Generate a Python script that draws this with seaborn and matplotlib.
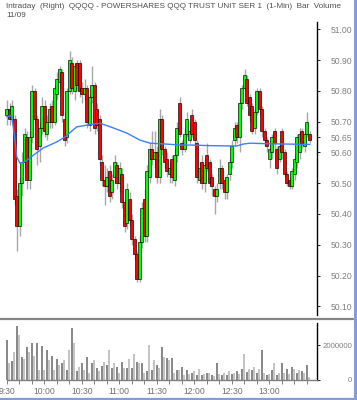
import matplotlib
matplotlib.use('Agg')
import matplotlib.pyplot as plt
from matplotlib.lines import Line2D
import seaborn as sns
import numpy as np
import pandas as pd

# ---------------- data ----------------
title_text = "Intraday  (Right)  QQQQ - POWERSHARES QQQ TRUST UNIT SER 1  (1-Min)  Bar  Volume"
date_text = "11/09"

# bar start times, minutes after 9:30 (2-minute bars)
bar_minutes = list(range(0, 244, 2))

opens = [50.72, 50.74, 50.71, 50.71, 50.46, 50.36, 50.50, 50.57, 50.65, 50.51,
         50.65, 50.80, 50.71, 50.62, 50.68, 50.75, 50.66, 50.70, 50.75, 50.70,
         50.79, 50.83, 50.86, 50.71, 50.65, 50.80, 50.89, 50.80, 50.89,
         50.89, 50.81, 50.79, 50.81, 50.69, 50.78, 50.82, 50.74, 50.71, 50.57,
         50.51, 50.49, 50.54, 50.47, 50.52, 50.56, 50.50, 50.53, 50.44, 50.37,
         50.45, 50.38, 50.32, 50.27, 50.19, 50.31, 50.45, 50.33, 50.52, 50.61,
         50.58, 50.60,
         50.52, 50.71, 50.61, 50.58, 50.53, 50.58, 50.51, 50.59, 50.76, 50.63,
         50.61, 50.66, 50.64, 50.72, 50.70, 50.63, 50.51, 50.57, 50.50, 50.59,
         50.57, 50.52, 50.48, 50.46, 50.50, 50.55, 50.51, 50.47, 50.53, 50.57,
         50.64, 50.69,
         50.65, 50.76, 50.81, 50.84, 50.78, 50.75, 50.68, 50.73, 50.80, 50.74,
         50.67, 50.64, 50.58, 50.60, 50.67, 50.61, 50.58, 50.67, 50.60, 50.53,
         50.51, 50.49, 50.53, 50.57, 50.60, 50.67, 50.62, 50.66, 50.66]
closes = [50.74, 50.71, 50.75, 50.45, 50.36, 50.50, 50.57, 50.66, 50.51, 50.65,
          50.80, 50.71, 50.61, 50.68, 50.75, 50.67, 50.70, 50.74, 50.70, 50.81,
          50.84, 50.87, 50.72, 50.64, 50.80, 50.90, 50.81, 50.88, 50.82,
          50.80, 50.79, 50.81, 50.70, 50.78, 50.82, 50.68, 50.69, 50.58, 50.51,
          50.49, 50.52, 50.46, 50.51, 50.57, 50.50, 50.55, 50.44, 50.36, 50.48,
          50.38, 50.32, 50.27, 50.19, 50.31, 50.42, 50.33, 50.54, 50.61, 50.58,
          50.60, 50.52,
          50.71, 50.61, 50.57, 50.54, 50.55, 50.52, 50.59, 50.68, 50.66, 50.61,
          50.66, 50.71, 50.67, 50.66, 50.64, 50.52, 50.55, 50.50, 50.56, 50.55,
          50.50, 50.49, 50.46, 50.48, 50.55, 50.50, 50.47, 50.52, 50.57, 50.62,
          50.68, 50.65,
          50.76, 50.81, 50.85, 50.76, 50.72, 50.67, 50.73, 50.80, 50.74, 50.67,
          50.64, 50.62, 50.61, 50.65, 50.63, 50.55, 50.62, 50.60, 50.53, 50.50,
          50.49, 50.54, 50.58, 50.65, 50.66, 50.63, 50.66, 50.70, 50.64]
highs = [50.77, 50.76, 50.77, 50.72, 50.48, 50.52, 50.60, 50.68, 50.67, 50.67,
         50.82, 50.81, 50.72, 50.70, 50.78, 50.77, 50.72, 50.76, 50.77, 50.82,
         50.86, 50.88, 50.87, 50.73, 50.81, 50.93, 50.91, 50.89, 50.90,
         50.90, 50.83, 50.84, 50.82, 50.79, 50.88, 50.83, 50.76, 50.72, 50.59,
         50.56, 50.55, 50.56, 50.53, 50.59, 50.57, 50.57, 50.55, 50.45, 50.50,
         50.47, 50.40, 50.33, 50.28, 50.33, 50.44, 50.48, 50.56, 50.63, 50.67,
         50.67, 50.62,
         50.74, 50.72, 50.62, 50.60, 50.57, 50.59, 50.61, 50.70, 50.78, 50.64,
         50.68, 50.73, 50.70, 50.74, 50.71, 50.64, 50.57, 50.59, 50.58, 50.63,
         50.58, 50.53, 50.49, 50.50, 50.58, 50.56, 50.52, 50.53, 50.58, 50.64,
         50.70, 50.70,
         50.77, 50.82, 50.87, 50.85, 50.79, 50.76, 50.74, 50.81, 50.81, 50.75,
         50.68, 50.65, 50.63, 50.66, 50.68, 50.62, 50.63, 50.68, 50.61, 50.54,
         50.52, 50.55, 50.59, 50.66, 50.68, 50.68, 50.67, 50.73, 50.67]
lows = [50.69, 50.69, 50.70, 50.43, 50.28, 50.33, 50.46, 50.55, 50.48, 50.48,
        50.63, 50.69, 50.56, 50.57, 50.66, 50.65, 50.64, 50.68, 50.68, 50.69,
        50.77, 50.81, 50.70, 50.62, 50.63, 50.79, 50.79, 50.77, 50.80,
        50.78, 50.76, 50.77, 50.68, 50.67, 50.76, 50.66, 50.67, 50.56, 50.49,
        50.43, 50.47, 50.44, 50.45, 50.50, 50.48, 50.47, 50.42, 50.34, 50.35,
        50.36, 50.30, 50.25, 50.18, 50.18, 50.29, 50.31, 50.31, 50.50, 50.56,
        50.55, 50.50,
        50.50, 50.59, 50.55, 50.52, 50.50, 50.50, 50.49, 50.57, 50.65, 50.59,
        50.60, 50.65, 50.63, 50.65, 50.62, 50.50, 50.50, 50.48, 50.47, 50.54,
        50.49, 50.46, 50.40, 50.44, 50.48, 50.48, 50.45, 50.45, 50.51, 50.55,
        50.62, 50.63,
        50.60, 50.74, 50.80, 50.75, 50.70, 50.66, 50.66, 50.72, 50.72, 50.65,
        50.62, 50.60, 50.55, 50.58, 50.61, 50.53, 50.57, 50.58, 50.52, 50.49,
        50.48, 50.48, 50.51, 50.55, 50.58, 50.61, 50.60, 50.65, 50.63]

# volume per bar, millions of shares
volume_m = [2.3, 1.0, 1.1, 1.6, 3.1, 2.6, 1.3, 1.2, 1.9, 1.6,
            2.1, 1.4, 2.1, 0.6, 1.95, 0.6, 1.7, 1.15, 1.4, 0.6,
            1.2, 0.85, 0.95, 1.15, 0.6, 1.7, 2.95, 2.1, 0.5, 0.75,
            0.95, 0.6, 1.3, 0.4, 0.95, 1.15, 0.7, 0.5, 0.8, 1.05,
            0.85, 1.7, 0.7, 0.95, 0.75, 0.4, 1.05, 0.7, 0.7, 1.2,
            0.7, 1.5, 1.05, 0.95, 0.95, 0.4, 0.5, 2.0, 0.6, 1.15,
            0.85, 0.7, 1.9, 1.3, 1.25, 1.15, 1.25, 0.4, 0.55, 0.55,
            0.75, 0.3, 0.55, 0.35, 0.4, 0.5, 0.3, 0.65, 0.3, 0.35,
            0.4, 0.4, 0.3, 0.25, 1.0, 0.35, 0.3, 0.4, 0.3, 0.5,
            0.35, 0.4, 0.5, 0.35, 0.65, 1.5, 0.45, 0.65, 0.55, 0.75,
            0.4, 0.65, 1.7, 0.4, 0.3, 0.35, 0.55, 1.0, 0.3, 0.4,
            0.95, 0.4, 0.65, 0.35, 0.75, 0.65, 0.4, 0.55, 0.5, 0.4,
            0.85, 0.2]

# moving-average line (blue)
ma_minutes = [0, 4, 6.6, 8, 10.6, 14.6, 21, 29, 40, 46.6, 56, 66.6, 74.6, 85,
              96, 106.6, 114.6, 128, 138.6, 146.6, 162.6, 178.6, 184, 189,
              194.6, 210.6, 226.6, 242.6]
ma_values = [50.716, 50.72, 50.64, 50.586, 50.565, 50.57, 50.59, 50.614, 50.634,
             50.65, 50.683, 50.69, 50.695, 50.68, 50.663, 50.64, 50.63, 50.627,
             50.624, 50.624, 50.622, 50.621, 50.621, 50.627, 50.63, 50.628,
             50.627, 50.626]

price_ticks = [50.10, 50.20, 50.30, 50.40, 50.50, 50.60, 50.65, 50.70, 50.80, 50.90, 51.00]
vol_ticks = [0, 2000000]
vol_tick_labels = ['0', '2000000']
time_tick_minutes = [0, 30, 60, 90, 120, 150, 180, 210]
time_tick_labels = ['9:30', '10:00', '10:30', '11:00', '11:30', '12:00', '12:30', '13:00']

assert len(opens) == len(closes) == len(highs) == len(lows) == len(volume_m) == len(bar_minutes)

# ---------------- figure ----------------
sns.set_theme(style='white')
FONT = ['Liberation Sans Narrow', 'Liberation Sans', 'DejaVu Sans']
plt.rcParams['font.family'] = FONT

W, H = 357, 400
fig = plt.figure(figsize=(W / 100, H / 100), dpi=100)
fig.patch.set_facecolor('white')


def axrect(x0, y0, x1, y1):
    return [x0 / W, 1 - y1 / H, (x1 - x0) / W, (y1 - y0) / H]


XMIN, XMAX = -5.36, 248.2
axp = fig.add_axes(axrect(0, 22, 317, 315))
axv = fig.add_axes(axrect(0, 323, 317, 380))

df = pd.DataFrame({'t': bar_minutes, 'open': opens, 'close': closes,
                   'high': highs, 'low': lows, 'vol': np.array(volume_m) * 1e6})
up = df['close'] >= df['open']

# wicks
axp.vlines(df['t'] + 0.3, df['low'], df['high'], color='#a8a8a8', lw=1.0, zorder=1)
# bodies
axp.bar(df['t'], (df['close'] - df['open']).abs(),
        bottom=np.minimum(df['open'], df['close']), width=2.3,
        color=np.where(up, '#00ff00', '#ff0000'), edgecolor='#000000',
        linewidth=0.45, zorder=2)
# moving average
sns.lineplot(x=ma_minutes, y=ma_values, ax=axp, color='#3d7fff', lw=1.0, zorder=3)

axp.set_xlim(XMIN, XMAX)
axp.set_ylim(50.0718, 51.0237)
axp.set_facecolor('white')
for s in ['left', 'top', 'bottom']:
    axp.spines[s].set_visible(False)
axp.spines['right'].set_linestyle((0, (1, 1)))
axp.spines['right'].set_color('black')
axp.spines['right'].set_linewidth(1.0)
axp.set_xticks([])
axp.yaxis.tick_right()
axp.set_yticks(price_ticks)
axp.set_yticklabels(['%.2f' % v for v in price_ticks])
axp.tick_params(axis='y', direction='out', length=2, width=0.6, color='black',
                labelcolor='#808080', labelsize=6.2, pad=23.5)
for lab in axp.get_yticklabels():
    lab.set_horizontalalignment('right')
axp.set_xlabel('')
axp.set_ylabel('')

# volume
vcolors = ['#8a8a8a' if i % 2 == 0 else '#c4c4c4' for i in range(len(df))]
axv.bar(df['t'], df['vol'], width=1.6, color=vcolors, linewidth=0)
axv.set_xlim(XMIN, XMAX)
axv.set_ylim(0, 3.26e6)
for s in ['left', 'top']:
    axv.spines[s].set_visible(False)
axv.spines['right'].set_linestyle((0, (1, 1)))
axv.spines['right'].set_color('black')
axv.spines['right'].set_linewidth(1.0)
axv.spines['bottom'].set_color('#808080')
axv.spines['bottom'].set_linewidth(1.0)
axv.spines['bottom'].set_bounds(0, XMAX)
axv.yaxis.tick_right()
axv.set_yticks(vol_ticks)
axv.set_yticklabels(vol_tick_labels)
axv.tick_params(axis='y', direction='out', length=2, width=0.6, color='black',
                labelcolor='#808080', labelsize=5.6, pad=23.5)
for lab in axv.get_yticklabels():
    lab.set_horizontalalignment('right')
axv.set_xticks(time_tick_minutes)
axv.set_xticklabels(time_tick_labels)
axv.set_xticks(list(range(0, 241, 10)), minor=True)
axv.tick_params(axis='x', which='both', direction='out', length=3, width=0.7,
                color='#808080', labelcolor='#707070', labelsize=6.2, pad=2,
                bottom=True)
axv.set_facecolor('white')

# separators / frame
fig.add_artist(Line2D([0, 353 / W], [1 - 318.5 / H] * 2, color='#858585', lw=1.6))
fig.add_artist(Line2D([355 / W] * 2, [0, 1], color='#7f9fd6', lw=2.2))
fig.add_artist(Line2D([0, 1], [1 - 398.8 / H] * 2, color='#7f9fd6', lw=1.6))

# header texts, fitted to the reference width
t1 = fig.text(6 / W, 1 - 6.5 / H, title_text, ha='left', va='center',
              fontsize=6.0, color='#505050')
t2 = fig.text(6 / W, 1 - 15.5 / H, date_text, ha='left', va='center',
              fontsize=6.0, color='#505050')
fig.canvas.draw()
r = fig.canvas.get_renderer()
w = t1.get_window_extent(r).width
t1.set_fontsize(6.0 * 339.0 / w)
t2.set_fontsize(6.0 * 339.0 / w)

fig.savefig('out.png', dpi=100, facecolor='white')
